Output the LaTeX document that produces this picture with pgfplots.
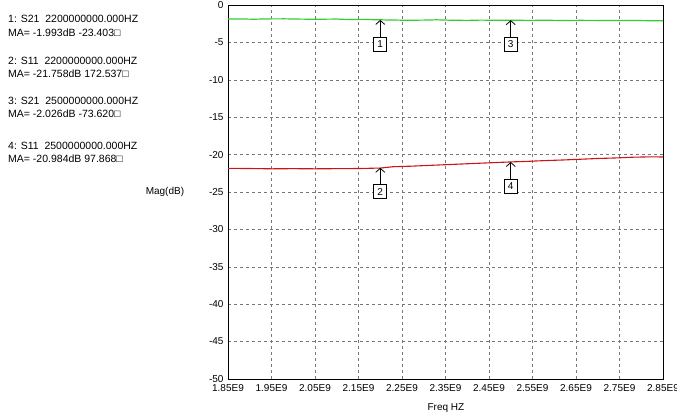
\documentclass[border=0pt]{standalone}
\usepackage{pgfplots}
\pgfplotsset{compat=1.18}
\usepackage{fontspec}
\setmainfont{Liberation Sans}
\usetikzlibrary{arrows.meta}
\definecolor{trgreen}{RGB}{50,205,50}
\definecolor{trred}{RGB}{205,20,20}
\definecolor{gridgray}{RGB}{120,120,120}
\newcommand{\tf}{\fontsize{10.5bp}{12bp}\selectfont}
\begin{document}
\begin{tikzpicture}
\useasboundingbox (0,0) rectangle (677bp,415bp);
\begin{axis}[
  at={(228bp,36bp)}, anchor=south west,
  scale only axis, width=435bp, height=374bp,
  xmin=1.85, xmax=2.85, ymin=-50, ymax=0,
  xtick={1.85,1.95,2.05,2.15,2.25,2.35,2.45,2.55,2.65,2.75,2.85},
  xticklabels={1.85E9,1.95E9,2.05E9,2.15E9,2.25E9,2.35E9,2.45E9,2.55E9,2.65E9,2.75E9,2.85E9},
  ytick={-50,-45,-40,-35,-30,-25,-20,-15,-10,-5,0},
  yticklabels={-50,-45,-40,-35,-30,-25,-20,-15,-10,-5,0},
  grid=major,
  grid style={dash pattern=on 3bp off 3bp, gridgray, line width=0.6bp},
  major tick length=0pt,
  axis line style={black, line width=0.9bp},
  tick label style={font=\fontsize{10bp}{12bp}\selectfont, black},
  xticklabel style={yshift=-2bp},
  yticklabel style={xshift=-1bp},
  xlabel={Freq HZ},
  ylabel={Mag(dB)},
  xlabel style={at={(axis description cs:0.501,-0.078)}, anchor=center, font=\fontsize{10bp}{12bp}\selectfont},
  ylabel style={at={(axis description cs:-0.145,0.5)}, anchor=center, rotate=-90, font=\fontsize{10bp}{12bp}\selectfont},
  clip mode=individual,
]
\addplot[trgreen, line width=1.2bp] coordinates {
(1.85,-1.86) (1.88,-1.87) (1.91,-1.90) (1.94,-1.86) (1.98,-1.85) (2.02,-1.89) (2.06,-1.90)
(2.10,-1.88) (2.13,-1.95) (2.16,-1.92) (2.19,-1.97) (2.22,-2.00) (2.26,-2.04) (2.30,-2.02)
(2.33,-1.98) (2.36,-2.03) (2.40,-2.06) (2.43,-2.02) (2.47,-2.04) (2.50,-2.03) (2.54,-2.06)
(2.58,-2.04) (2.62,-2.07) (2.66,-2.05) (2.70,-2.06) (2.74,-2.08) (2.78,-2.07) (2.82,-2.10) (2.85,-2.10)
};
\addplot[trred, line width=1.1bp] coordinates {
(1.85,-21.84) (1.90,-21.86) (1.95,-21.90) (2.00,-21.88) (2.05,-21.90) (2.10,-21.88)
(2.15,-21.86) (2.20,-21.80) (2.23,-21.62) (2.27,-21.55) (2.31,-21.45) (2.35,-21.35)
(2.39,-21.25) (2.43,-21.15) (2.47,-21.05) (2.50,-20.98) (2.54,-20.90) (2.58,-20.80)
(2.62,-20.72) (2.66,-20.62) (2.70,-20.52) (2.74,-20.45) (2.78,-20.35) (2.82,-20.30) (2.85,-20.32)
};
\begin{scope}[every node/.style={draw, fill=white, line width=0.8bp, minimum width=13bp, minimum height=14bp, inner sep=0pt, font=\fontsize{10bp}{12bp}\selectfont}]
\node (m1) at ([yshift=-24bp]axis cs:2.2,-1.993) {1};
\node (m2) at ([yshift=-24bp]axis cs:2.2,-21.758) {2};
\node (m3) at ([yshift=-24bp]axis cs:2.5,-2.026) {3};
\node (m4) at ([yshift=-24bp]axis cs:2.5,-20.984) {4};
\end{scope}
\draw[line width=0.8bp, -{Straight Barb[length=4bp,width=9bp]}] (m1.north) -- (axis cs:2.2,-1.993);
\draw[line width=0.8bp, -{Straight Barb[length=4bp,width=9bp]}] (m2.north) -- (axis cs:2.2,-21.758);
\draw[line width=0.8bp, -{Straight Barb[length=4bp,width=9bp]}] (m3.north) -- (axis cs:2.5,-2.026);
\draw[line width=0.8bp, -{Straight Barb[length=4bp,width=9bp]}] (m4.north) -- (axis cs:2.5,-20.984);
\end{axis}
\begin{scope}[every node/.style={anchor=base west, inner sep=0pt, font=\tf}]
\node at (8bp,392bp) {1: S21\ \ 2200000000.000HZ};
\node at (8bp,378.5bp) {MA= -1.993dB -23.403□};
\node at (8bp,350bp) {2: S11\ \ 2200000000.000HZ};
\node at (8bp,337bp) {MA= -21.758dB 172.537□};
\node at (8bp,310bp) {3: S21\ \ 2500000000.000HZ};
\node at (8bp,297bp) {MA= -2.026dB -73.620□};
\node at (8bp,265.5bp) {4: S11\ \ 2500000000.000HZ};
\node at (8bp,252bp) {MA= -20.984dB 97.868□};
\end{scope}
\end{tikzpicture}
\end{document}
